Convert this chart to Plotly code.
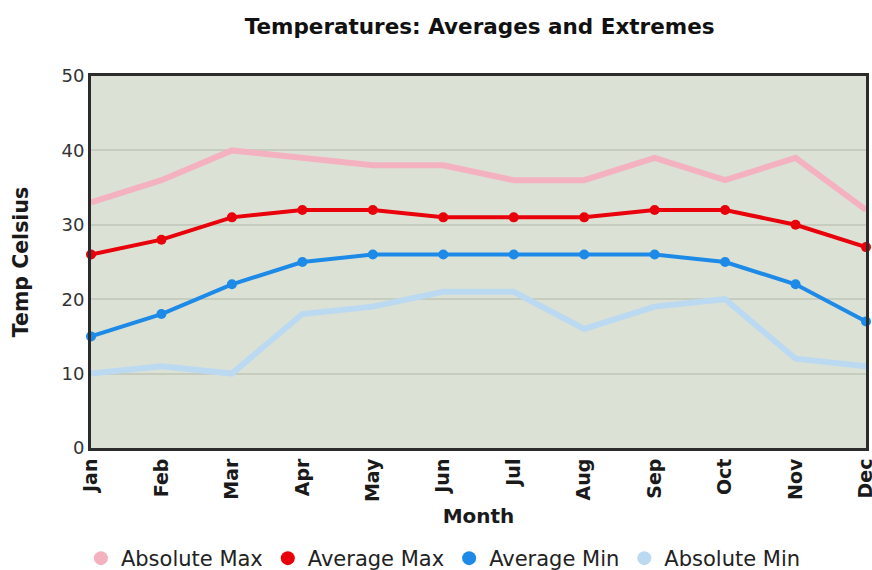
import plotly.graph_objects as go

months = ["Jan", "Feb", "Mar", "Apr", "May", "Jun", "Jul", "Aug", "Sep", "Oct", "Nov", "Dec"]
absolute_max = [33, 36, 40, 39, 38, 38, 36, 36, 39, 36, 39, 32]
average_max = [26, 28, 31, 32, 32, 31, 31, 31, 32, 32, 30, 27]
average_min = [15, 18, 22, 25, 26, 26, 26, 26, 26, 25, 22, 17]
absolute_min = [10, 11, 10, 18, 19, 21, 21, 16, 19, 20, 12, 11]

series = [
    ("Absolute Max", absolute_max, "#f4b2c0", 6, 0),
    ("Average Max", average_max, "#e8000b", 4, 10),
    ("Average Min", average_min, "#1e8ae8", 4, 10),
    ("Absolute Min", absolute_min, "#bcd9f2", 6, 0),
]

FONT = "DejaVu Sans"
fig = go.Figure()

for name, vals, color, width, msize in series:
    fig.add_trace(go.Scatter(
        x=months, y=vals, name=name,
        mode="lines+markers" if msize else "lines",
        line=dict(color=color, width=width),
        marker=dict(color=color, size=msize, symbol="circle"),
        showlegend=False, legendgroup=name, cliponaxis=False,
    ))

# legend entries shown as plain dots
for name, vals, color, width, msize in series:
    fig.add_trace(go.Scatter(
        x=[None], y=[None], name=name, mode="markers",
        marker=dict(color=color, size=14, symbol="circle"),
        legendgroup=name, showlegend=True,
    ))

fig.update_layout(
    width=872, height=570,
    margin=dict(l=91, r=6, t=76, b=122, autoexpand=False),
    paper_bgcolor="white",
    plot_bgcolor="#dbe2d5",
    title=dict(text="<b>Temperatures: Averages and Extremes</b>",
               x=0.55, xanchor="center", y=0.953, yanchor="middle",
               font=dict(family=FONT, size=21.5, color="#111")),
    font=dict(family=FONT, color="#222"),
    legend=dict(orientation="h", x=-0.013, xanchor="left", y=-0.297, yanchor="middle",
                font=dict(family=FONT, size=21, color="#222"),
                itemwidth=30, tracegroupgap=0, bgcolor="rgba(0,0,0,0)"),
    xaxis=dict(
        range=[0, 11], tickangle=-90, showgrid=False, zeroline=False, automargin=False,
        showline=True, mirror=True, linecolor="#2b2b2b", linewidth=3,
        ticks="", tickfont=dict(family=FONT, size=19, color="#1a1a1a", weight="bold"),
        title=dict(text="<b>Month</b>", font=dict(family=FONT, size=20, color="#1a1a1a"), standoff=8),
    ),
    yaxis=dict(
        range=[0, 50], dtick=10, showgrid=True, gridcolor="#c6ccbe", gridwidth=2,
        zeroline=False, showline=True, mirror=True, linecolor="#2b2b2b", linewidth=3,
        automargin=False,
        ticks="", tickfont=dict(family=FONT, size=18, color="#333"),
        title=dict(text="<b>Temp Celsius</b>", font=dict(family=FONT, size=20.5, color="#1a1a1a"), standoff=28),
    ),
)

fig.write_html("out.html")
